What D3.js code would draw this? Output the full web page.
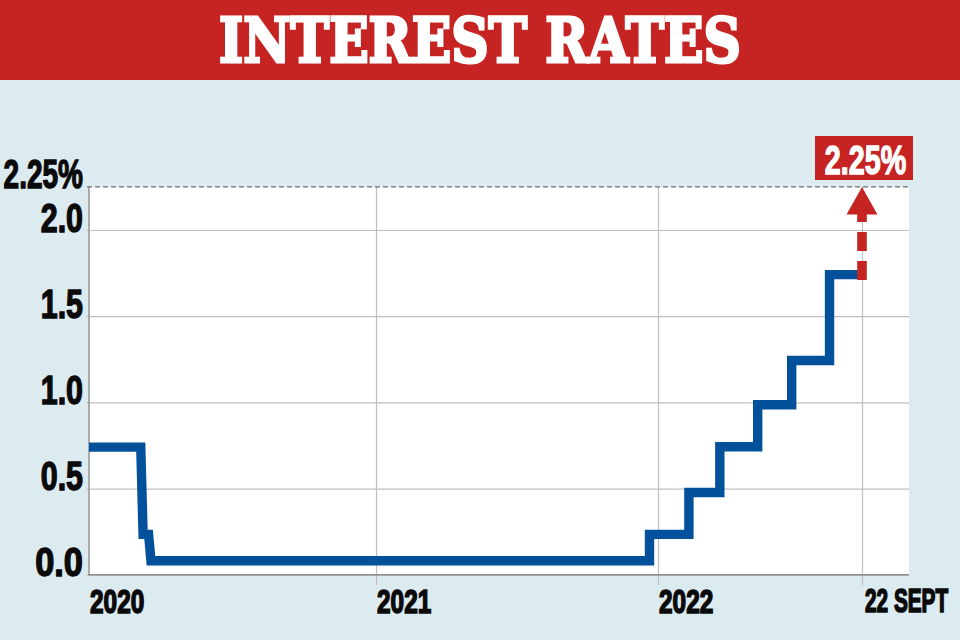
<!DOCTYPE html>
<html>
<head>
<meta charset="utf-8">
<script src="https://cdnjs.cloudflare.com/ajax/libs/d3/7.8.5/d3.min.js"></script>
<style>
  html, body { margin: 0; padding: 0; background: #dcebf0; }
  svg { display: block; }
  .lbl { font-family: "Liberation Sans", sans-serif; font-weight: 700; fill: #0a0a0a; stroke: #0a0a0a; stroke-width: 1.4px; }
  .grid line { stroke: #bfbfbf; stroke-width: 1.2px; }
  .grid path { display: none; }
</style>
</head>
<body>
<script>
var title = 'INTEREST RATES';
var topRate = 2.25;
var topLabel = '2.25%';

var yTicks = [0, 0.5, 1, 1.5, 2];
var xTickDates = ['2020-01-01', '2021-01-01', '2022-01-01', '2022-09-22'];
var xTickLabels = ['2020', '2021', '2022', '22 SEPT'];

// corners of the stepped line
var rateDates = ['2020-01-01', '2020-03-07', '2020-03-10', '2020-03-17', '2020-03-20',
  '2021-12-21', '2021-12-21', '2022-02-10', '2022-02-10', '2022-03-22', '2022-03-22',
  '2022-05-10', '2022-05-10', '2022-06-23', '2022-06-23', '2022-08-11', '2022-08-11', '2022-09-22'];
var rateValues = [0.74, 0.74, 0.234, 0.234, 0.081,
  0.081, 0.234, 0.234, 0.477, 0.477, 0.742,
  0.742, 0.986, 0.986, 1.243, 1.243, 1.741, 1.741];

var parse = d3.utcParse('%Y-%m-%d');
var red = '#c62422', blue = '#03509b';

// no condensed face installed, so squeeze the bold one to the width we want
function squash(sel, k) {
  sel.each(function() {
    d3.select(this)
      .attr('textLength', this.getComputedTextLength() * k)
      .attr('lengthAdjust', 'spacingAndGlyphs');
  });
}

var svg = d3.select('body').append('svg').attr('width', 960).attr('height', 640);

var x = d3.scaleUtc()
  .domain(xTickDates.map(parse))
  .range([89, 376, 658, 862]);
var xEnd = 909;

var y = d3.scaleLinear().domain([0, 2]).range([574.7, 230]);

// banner
svg.append('rect').attr('width', 960).attr('height', 80).attr('fill', red);
svg.append('text')
  .attr('x', 480).attr('y', 62)
  .attr('text-anchor', 'middle')
  .attr('textLength', 522).attr('lengthAdjust', 'spacingAndGlyphs')
  .style('font-family', '"DejaVu Serif", serif')
  .style('font-weight', 700)
  .style('font-size', '62px')
  .attr('fill', '#fff').attr('stroke', '#fff').attr('stroke-width', 3)
  .text(title);

// plot area
svg.append('rect')
  .attr('x', x.range()[0]).attr('y', y(topRate))
  .attr('width', xEnd - x.range()[0]).attr('height', y(0) - y(topRate))
  .attr('fill', '#fff');

// grid + axes
var yAxis = d3.axisLeft(y)
  .tickValues(yTicks)
  .tickFormat(d3.format('.1f'))
  .tickSize(-(xEnd - 87))
  .tickPadding(4);

var gy = svg.append('g').attr('class', 'grid')
  .attr('transform', 'translate(87,0)')
  .call(yAxis);
gy.selectAll('line').attr('x1', 0).attr('x2', xEnd - 87);
gy.selectAll('text').attr('class', 'lbl').attr('dy', 0).attr('y', 1).attr('x', -4)
  .style('font-size', '40px')
  .each(function(d) { d3.select(this).call(squash, d === 0 ? 0.86 : 0.76); });

var xAxis = d3.axisBottom(x)
  .tickValues(xTickDates.slice(1).map(parse))
  .tickFormat('')
  .tickSize(0);

var gx = svg.append('g').attr('class', 'grid').call(xAxis);
gx.selectAll('line').attr('y1', y(topRate)).attr('y2', 585);

svg.append('line')
  .attr('x1', 89).attr('x2', 89).attr('y1', y(topRate)).attr('y2', y(0))
  .attr('stroke', '#9a9a9a').attr('stroke-width', 1.6);
svg.append('line')
  .attr('x1', 88).attr('x2', xEnd).attr('y1', y(0)).attr('y2', y(0))
  .attr('stroke', '#8c8c8c').attr('stroke-width', 1.4);

svg.selectAll('text.xlbl')
  .data(xTickLabels)
  .enter().append('text')
  .attr('class', 'lbl xlbl')
  .attr('transform', function(d, i) {
    var px = x(parse(xTickDates[i])) + (i === 3 ? 3 : 1);
    return 'translate(' + px + ',' + (i === 3 ? 612 : 613) + ') scale(' + (i === 3 ? 0.63 : 0.74) + ',1)';
  })
  .style('font-size', '33px')
  .style('vector-effect', 'non-scaling-stroke')
  .text(function(d) { return d; });

// top dashed level
svg.append('line')
  .attr('x1', 87).attr('x2', xEnd).attr('y1', y(topRate)).attr('y2', y(topRate))
  .attr('stroke', '#6f6f6f').attr('stroke-width', 1.2).attr('stroke-dasharray', '5 3');
svg.append('text')
  .attr('class', 'lbl')
  .attr('x', 83).attr('y', y(topRate) + 1)
  .attr('text-anchor', 'end')
  .style('font-size', '40px')
  .text(topLabel)
  .call(squash, 0.70);

// rate line
var line = d3.line()
  .x(function(d) { return x(d[0]); })
  .y(function(d) { return y(d[1]); });

svg.append('path')
  .datum(d3.zip(rateDates.map(parse), rateValues))
  .attr('d', line)
  .attr('fill', 'none')
  .attr('stroke', blue)
  .attr('stroke-width', 9.4)
  .attr('stroke-linejoin', 'miter');

// arrow up to the new rate
var endX = x(parse(xTickDates[3]));
var lastRate = rateValues[rateValues.length - 1];
svg.append('line')
  .attr('x1', endX).attr('x2', endX)
  .attr('y1', y(lastRate) + 5.3).attr('y2', y(topRate) + 27)
  .attr('stroke', red).attr('stroke-width', 9.6)
  .attr('stroke-dasharray', '19 10');
svg.append('path')
  .attr('transform', 'translate(' + endX + ',' + y(topRate) + ')')
  .attr('d', 'M0,0L15.5,27.5L-15.5,27.5Z')
  .attr('fill', red);

// value flag
svg.append('rect')
  .attr('x', 815).attr('y', 136).attr('width', 98).attr('height', 44)
  .attr('fill', red);
svg.append('text')
  .attr('class', 'lbl')
  .attr('x', 865.5).attr('y', 174)
  .attr('text-anchor', 'middle')
  .style('font-size', '41px')
  .style('fill', '#fff').style('stroke', '#fff')
  .text(topLabel)
  .call(squash, 0.70);
</script>
</body>
</html>
